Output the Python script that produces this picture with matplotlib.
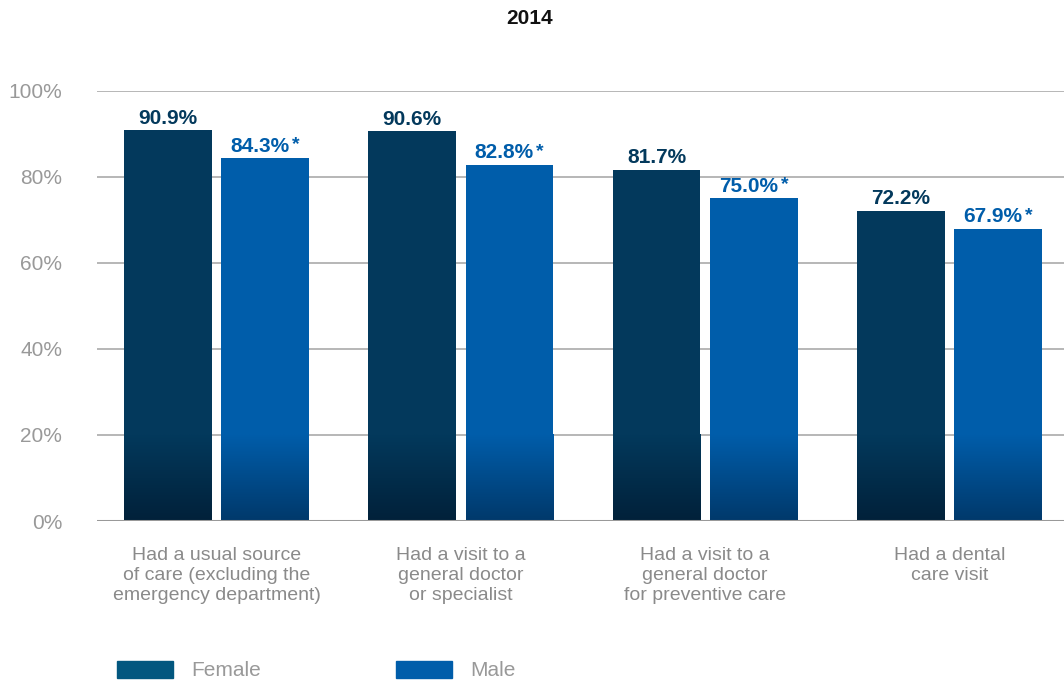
import matplotlib.pyplot as plt
import matplotlib.colors as mcolors
import numpy as np

plt.rcParams['font.family'] = ['Liberation Sans', 'DejaVu Sans']

# data
categories = [
    "Had a usual source\nof care (excluding the\nemergency department)",
    "Had a visit to a\ngeneral doctor\nor specialist",
    "Had a visit to a\ngeneral doctor\nfor preventive care",
    "Had a dental\ncare visit",
]
female = [90.9, 90.6, 81.7, 72.2]
male = [84.3, 82.8, 75.0, 67.9]
male_sig = [True, True, True, True]
yticks = [0, 20, 40, 60, 80, 100]

f_top, f_bot = "#03395c", "#01213a"
m_top, m_bot = "#005daa", "#00396b"
grey = "#999999"

fig = plt.figure(figsize=(10.64, 6.84), dpi=100)
ax = fig.add_axes([0.0912, 0.2383, 0.9088, 0.6287])

x = np.arange(len(categories))
w = 0.36
off = 0.199


def grad_bar(xc, h, top, bot):
    ax.bar(xc, h, w, color=top, zorder=2)
    g = min(20, h)
    c0 = np.array(mcolors.to_rgb(bot))
    c1 = np.array(mcolors.to_rgb(top))
    t = np.linspace(0, 1, 64)[:, None]
    img = (c0 * (1 - t) + c1 * t)[:, None, :]
    ax.imshow(img, extent=[xc - w / 2, xc + w / 2, 0, g], origin="lower",
              aspect="auto", zorder=3, interpolation="bilinear")


for i in range(len(categories)):
    grad_bar(x[i] - off, female[i], f_top, f_bot)
    grad_bar(x[i] + off, male[i], m_top, m_bot)
    ax.text(x[i] - off, female[i] + 0.6, f"{female[i]:.1f}%", ha="center",
            va="bottom", fontsize=15, fontweight="bold", color=f_top)
    ax.text(x[i] + off - 0.022, male[i] + 0.6, f"{male[i]:.1f}%", ha="center",
            va="bottom", fontsize=15, fontweight="bold", color=m_top)
    if male_sig[i]:
        ax.text(x[i] + off + 0.11, male[i] + 1.2, "*", ha="left",
                va="bottom", fontsize=14, fontweight="bold", color=m_top)

ax.set_xlim(-0.49, 3.47)
ax.set_ylim(0, 100)
ax.set_yticks(yticks)
ax.set_yticklabels([f"{v}%" for v in yticks])
ax.yaxis.grid(True, color="#aaaaaa", linewidth=1.2, zorder=0)
ax.set_axisbelow(True)
ax.axhline(0, color="#999999", linewidth=2.2, zorder=4)
ax.tick_params(axis="y", length=0, labelsize=15, labelcolor=grey, pad=25)
ax.set_xticks(x)
ax.set_xticklabels(categories, fontsize=14, color="#8a8a8a", linespacing=1.22)
ax.tick_params(axis="x", length=0, pad=19)
for s in ax.spines.values():
    s.set_visible(False)

fig.text(0.498, 0.973, "2014", ha="center", va="center", fontsize=15,
         fontweight="bold", color="#111111")

# legend
fig.patches.append(plt.Rectangle((117 / 1064, 1 - 678 / 684), 56 / 1064, 17 / 684,
                                 transform=fig.transFigure, color="#02577f"))
fig.text(191 / 1064, 1 - 670 / 684, "Female", fontsize=15, color=grey, va="center")
fig.patches.append(plt.Rectangle((396 / 1064, 1 - 678 / 684), 56 / 1064, 17 / 684,
                                 transform=fig.transFigure, color=m_top))
fig.text(470 / 1064, 1 - 670 / 684, "Male", fontsize=15, color=grey, va="center")

fig.savefig("out.png", dpi=100)
